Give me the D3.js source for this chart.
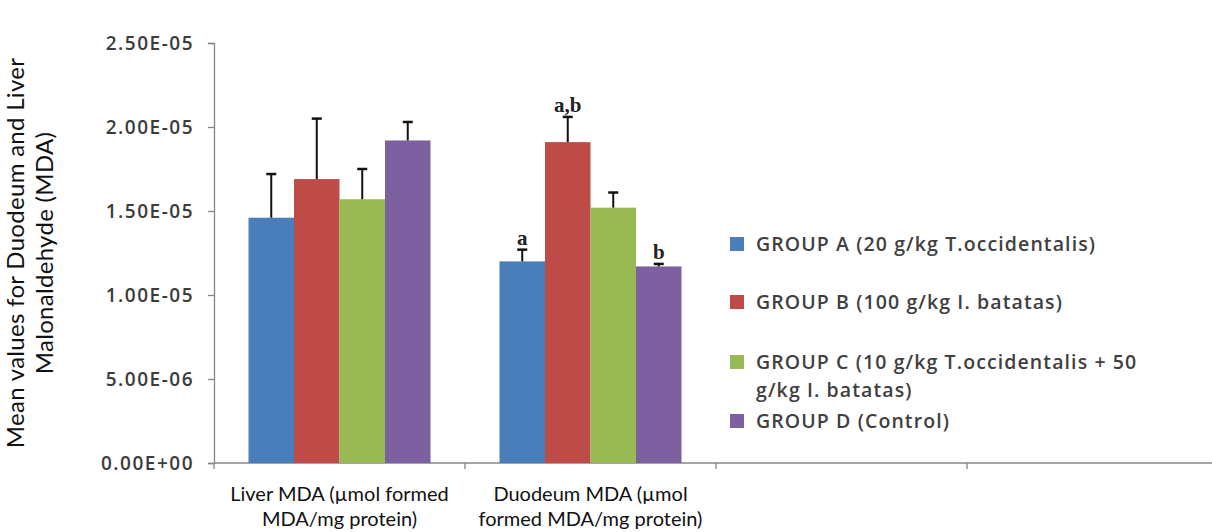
<!DOCTYPE html>
<html>
<head>
<meta charset="utf-8">
<script src="https://cdn.jsdelivr.net/npm/d3@7"></script>
<style>
  html, body { margin: 0; padding: 0; background: #fff; }
  svg { display: block; }
</style>
</head>
<body>
<svg id="chart" width="1212" height="532"></svg>
<script>
// Category slots on the x axis (the last two are empty)
const categoryKeys = ["liver", "duodenum", "slot3", "slot4"];
const categoryLabels = [
  ["Liver MDA (µmol formed", "MDA/mg protein)"],
  ["Duodeum MDA (µmol", "formed MDA/mg protein)"],
  [],
  []
];

const groups = ["A", "B", "C", "D"];
const groupNames = [
  ["GROUP A (20 g/kg T.occidentalis)"],
  ["GROUP B (100 g/kg I. batatas)"],
  ["GROUP C (10 g/kg T.occidentalis + 50", "g/kg I. batatas)"],
  ["GROUP D (Control)"]
];
const groupColors = ["#4a7ebb", "#be4b48", "#98b954", "#7d60a0"];

// Mean MDA per group, liver then duodenum
const liverMeans = [1.46e-5, 1.69e-5, 1.57e-5, 1.92e-5];
const liverErrors = [0.26e-5, 0.36e-5, 0.18e-5, 0.11e-5];
const duodenumMeans = [1.20e-5, 1.91e-5, 1.52e-5, 1.17e-5];
const duodenumErrors = [0.07e-5, 0.15e-5, 0.09e-5, 0.015e-5];
const duodenumMarks = ["a", "a,b", "", "b"];

const yTicks = [0, 5e-6, 1e-5, 1.5e-5, 2e-5, 2.5e-5];

const svg = d3.select("#chart");
const x0 = 214, y0 = 463, yTop = 43, xEnd = 1218;

const x = d3.scaleBand().domain(categoryKeys).range([x0, xEnd]).padding(0);
const xInner = d3.scaleBand().domain(groups)
  .range([34.5, x.bandwidth() - 34.5]).padding(0);
const y = d3.scaleLinear().domain([0, 2.5e-5]).range([y0, yTop]);

function sci(v) {
  if (v === 0) return "0.00E+00";
  const e = Math.floor(Math.log10(Math.abs(v)) + 1e-9);
  const m = v / Math.pow(10, e);
  const sign = e < 0 ? "-" : "+";
  return m.toFixed(2) + "E" + sign + String(Math.abs(e)).padStart(2, "0");
}

const axisColor = "#868686";

// Y axis
const yAxis = svg.append("g").attr("transform", `translate(${x0},0)`)
  .call(d3.axisLeft(y).tickValues(yTicks).tickFormat(sci).tickSize(6).tickPadding(14));
yAxis.select(".domain").attr("stroke", axisColor).attr("stroke-width", 1.3);
yAxis.selectAll(".tick line").attr("stroke", axisColor).attr("stroke-width", 1.3);
yAxis.selectAll(".tick text")
  .attr("font-family", "'Open Sans', sans-serif")
  .attr("font-weight", 600)
  .attr("font-size", 19)
  .attr("fill", "#3c3c3c")
  .attr("letter-spacing", 1.5);

// X axis with ticks at the category boundaries
const bounds = categoryKeys.map(k => x(k)).concat([xEnd]);
const xAxisG = svg.append("g");
xAxisG.append("line")
  .attr("x1", x0).attr("x2", xEnd).attr("y1", y0).attr("y2", y0)
  .attr("stroke", axisColor).attr("stroke-width", 1.3);
xAxisG.selectAll("line.tk").data(bounds).join("line")
  .attr("class", "tk")
  .attr("x1", d => d).attr("x2", d => d)
  .attr("y1", y0).attr("y2", y0 + 6)
  .attr("stroke", axisColor).attr("stroke-width", 1.3);

// Category labels
categoryKeys.forEach((k, i) => {
  const cx = x(k) + x.bandwidth() / 2;
  const t = svg.append("text")
    .attr("x", cx)
    .attr("y", 501)
    .attr("text-anchor", "middle")
    .attr("font-family", "Lato, sans-serif")
    .attr("font-size", 20)
    .attr("fill", "#111");
  categoryLabels[i].forEach((line, j) => {
    t.append("tspan").attr("x", cx).attr("dy", j === 0 ? 0 : 25).text(line);
  });
});

// Bars and error bars
const series = [
  { key: "liver", means: liverMeans, errors: liverErrors, marks: ["", "", "", ""] },
  { key: "duodenum", means: duodenumMeans, errors: duodenumErrors, marks: duodenumMarks }
];

series.forEach(s => {
  const g = svg.append("g").attr("transform", `translate(${x(s.key)},0)`);
  g.selectAll("rect").data(groups).join("rect")
    .attr("x", d => xInner(d))
    .attr("width", xInner.bandwidth())
    .attr("y", (d, i) => y(s.means[i]))
    .attr("height", (d, i) => y0 - y(s.means[i]))
    .attr("fill", (d, i) => groupColors[i]);

  g.selectAll("line.err").data(groups).join("line")
    .attr("class", "err")
    .attr("x1", d => xInner(d) + xInner.bandwidth() / 2)
    .attr("x2", d => xInner(d) + xInner.bandwidth() / 2)
    .attr("y1", (d, i) => y(s.means[i]))
    .attr("y2", (d, i) => y(s.means[i] + s.errors[i]))
    .attr("stroke", "#111").attr("stroke-width", 2);

  g.selectAll("line.cap").data(groups).join("line")
    .attr("class", "cap")
    .attr("x1", d => xInner(d) + xInner.bandwidth() / 2 - 5)
    .attr("x2", d => xInner(d) + xInner.bandwidth() / 2 + 5)
    .attr("y1", (d, i) => y(s.means[i] + s.errors[i]))
    .attr("y2", (d, i) => y(s.means[i] + s.errors[i]))
    .attr("stroke", "#111").attr("stroke-width", 2.5);

  g.selectAll("text.mark").data(groups).join("text")
    .attr("class", "mark")
    .attr("x", d => xInner(d) + xInner.bandwidth() / 2)
    .attr("y", (d, i) => y(s.means[i] + s.errors[i]) - 5)
    .attr("text-anchor", "middle")
    .attr("font-family", "'Liberation Serif', 'Times New Roman', serif")
    .attr("font-weight", 600)
    .attr("font-size", 21)
    .attr("fill", "#222")
    .text((d, i) => s.marks[i]);
});

// Legend
const legendRows = [244, 302, 362, 421];
const legend = svg.append("g");
groups.forEach((gk, i) => {
  legend.append("rect")
    .attr("x", 730).attr("y", legendRows[i] - 7)
    .attr("width", 14).attr("height", 14)
    .attr("fill", groupColors[i]);
  const t = legend.append("text")
    .attr("x", 756).attr("y", legendRows[i] + 7)
    .attr("font-family", "'Open Sans', sans-serif")
    .attr("font-weight", 600)
    .attr("font-size", 19.5)
    .attr("letter-spacing", 1.1)
    .attr("fill", "#404040");
  groupNames[i].forEach((line, j) => {
    t.append("tspan").attr("x", 756).attr("dy", j === 0 ? 0 : 28).text(line);
  });
});

// Y axis title
const yTitle = svg.append("text")
  .attr("transform", "translate(24,253) rotate(-90)")
  .attr("text-anchor", "middle")
  .attr("font-family", "Lato, sans-serif")
  .attr("font-size", 24)
  .attr("letter-spacing", 0.3)
  .attr("fill", "#111");
yTitle.append("tspan").attr("x", 0).attr("dy", 0).text("Mean values for Duodeum and Liver");
yTitle.append("tspan").attr("x", 0).attr("dy", 29).text("Malonaldehyde (MDA)");
</script>
</body>
</html>
